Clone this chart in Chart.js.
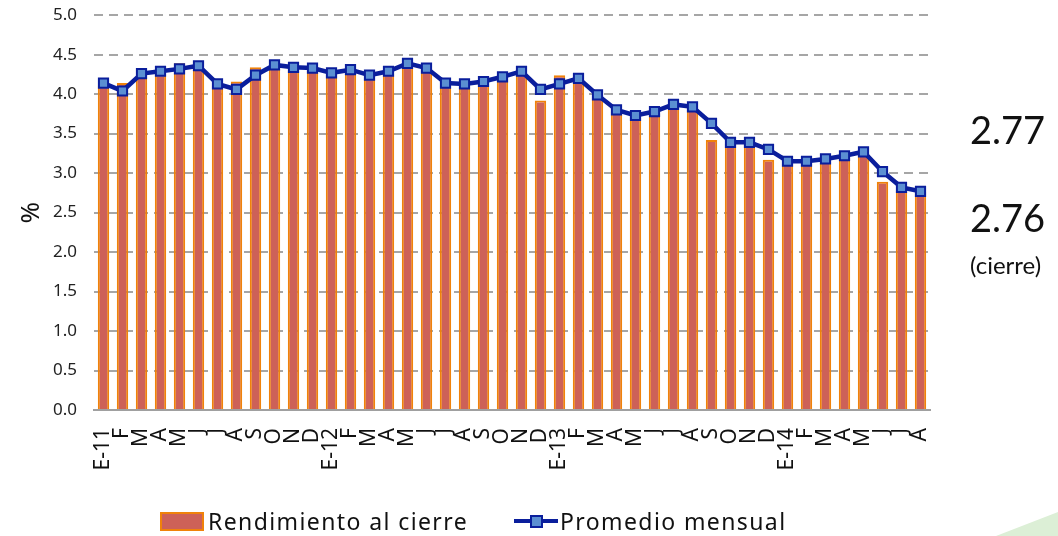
<!DOCTYPE html>
<html>
<head>
<meta charset="utf-8">
<script src="https://cdn.jsdelivr.net/npm/chart.js@4/dist/chart.umd.min.js"></script>
<style>
  html, body { margin: 0; padding: 0; background: #fff; }
  #wrap { position: relative; width: 1058px; height: 536px; overflow: hidden; font-family: "Noto Sans", sans-serif; }
  #chart { position: absolute; left: 0; top: -12px; }
  .note { position: absolute; color: #111; font-family: Lato, sans-serif; }
  .legend { position: absolute; top: 506px; height: 30px; display: flex; align-items: center; font-size: 23px; letter-spacing: 1.4px; color: #111; }
  .swatch-bar { width: 40px; height: 15px; background: #cd6158; border: 2px solid #f0820a; margin-right: 4px; }
  .swatch-line { position: relative; width: 44px; height: 18px; margin-right: 2px; }
  .swatch-line .ln { position: absolute; left: 0; right: 0; top: 7px; height: 4px; background: #0a1e9c; }
  .swatch-line .pt { position: absolute; left: 16px; top: 3px; width: 9px; height: 9px; background: #5b8fd2; border: 2px solid #0a1e9c; }
  #deco { position: absolute; right: 0; bottom: 0; width: 62px; height: 24px; background: #dcefd6; clip-path: polygon(100% 0, 100% 100%, 0 100%); }
</style>
</head>
<body>
<div id="wrap">
  <canvas id="chart" width="1058" height="548"></canvas>
  <div class="note" style="left:970px; top:106px; font-size:38px;">2.77</div>
  <div class="note" style="left:970px; top:194px; font-size:38px;">2.76</div>
  <div class="note" style="left:970px; top:250px; font-size:24px;">(cierre)</div>
  <div class="legend" style="left:160px;"><div class="swatch-bar"></div>Rendimiento al cierre</div>
  <div class="legend" style="left:514px;"><div class="swatch-line"><div class="ln"></div><div class="pt"></div></div>Promedio mensual</div>
  <div id="deco"></div>
</div>
<script>
// months Jan 2011 - Aug 2014
const months = [
  'E-11', 'F', 'M', 'A', 'M', 'J', 'J', 'A', 'S', 'O', 'N', 'D',
  'E-12', 'F', 'M', 'A', 'M', 'J', 'J', 'A', 'S', 'O', 'N', 'D',
  'E-13', 'F', 'M', 'A', 'M', 'J', 'J', 'A', 'S', 'O', 'N', 'D',
  'E-14', 'F', 'M', 'A', 'M', 'J', 'J', 'A'
];

// closing yield (bars)
const cierre = [
  4.10, 4.14, 4.22, 4.25, 4.39, 4.33, 4.10, 4.16, 4.34, 4.33, 4.30, 4.30,
  4.24, 4.28, 4.20, 4.26, 4.36, 4.30, 4.11, 4.10, 4.13, 4.19, 4.26, 3.92,
  4.24, 4.17, 3.95, 3.78, 3.70, 3.75, 3.83, 3.80, 3.42, 3.37, 3.38, 3.17,
  3.12, 3.13, 3.15, 3.20, 3.25, 2.89, 2.78, 2.76
];

// monthly average (line)
const promedio = [
  4.14, 4.04, 4.26, 4.29, 4.32, 4.36, 4.13, 4.06, 4.24, 4.37, 4.34, 4.33,
  4.27, 4.31, 4.24, 4.29, 4.39, 4.33, 4.14, 4.13, 4.16, 4.22, 4.29, 4.06,
  4.13, 4.20, 3.99, 3.80, 3.73, 3.78, 3.87, 3.84, 3.63, 3.39, 3.39, 3.30,
  3.15, 3.15, 3.18, 3.22, 3.27, 3.02, 2.82, 2.77
];

const yTicks = [0, 0.5, 1, 1.5, 2, 2.5, 3, 3.5, 4, 4.5, 5];

new Chart(document.getElementById('chart'), {
  data: {
    labels: months,
    datasets: [
      {
        type: 'line',
        label: 'Promedio mensual',
        data: promedio,
        borderColor: '#0a1e9c',
        borderWidth: 4.5,
        pointStyle: 'rect',
        pointRadius: 6.5,
        pointBackgroundColor: '#5b8fd2',
        pointBorderColor: '#0a1e9c',
        pointBorderWidth: 2,
        tension: 0,
        order: 0
      },
      {
        type: 'bar',
        label: 'Rendimiento al cierre',
        data: cierre,
        backgroundColor: '#cd6158',
        borderColor: '#f0820a',
        borderWidth: 2,
        categoryPercentage: 1,
        barPercentage: 0.6,
        order: 1
      }
    ]
  },
  options: {
    responsive: false,
    animation: false,
    layout: { padding: { top: 3, right: 128, left: 0, bottom: 0 } },
    plugins: { legend: { display: false }, tooltip: { enabled: false } },
    scales: {
      x: {
        afterFit: s => { s.height = 126; },
        grid: { display: false },
        border: { display: true, color: '#a0a0a0', width: 2 },
        ticks: {
          autoSkip: false,
          maxRotation: 90,
          minRotation: 90,
          color: '#111',
          padding: 10,
          font: { family: '"Noto Sans", sans-serif', size: 21 }
        }
      },
      y: {
        min: 0,
        max: 5,
        afterFit: s => { s.width = 94; },
        afterBuildTicks: s => { s.ticks = yTicks.map(v => ({ value: v })); },
        border: { display: false, dash: [9, 6] },
        grid: { color: '#a6a6a6', lineWidth: 2, drawTicks: false },
        ticks: {
          color: '#222',
          padding: 17,
          font: { family: '"Noto Sans", sans-serif', size: 17 },
          callback: v => v.toFixed(1)
        },
        title: {
          display: true,
          text: '%',
          color: '#111',
          padding: { top: 16, bottom: 0 },
          font: { family: '"Noto Sans", sans-serif', size: 26 }
        }
      }
    }
  }
});
</script>
</body>
</html>
